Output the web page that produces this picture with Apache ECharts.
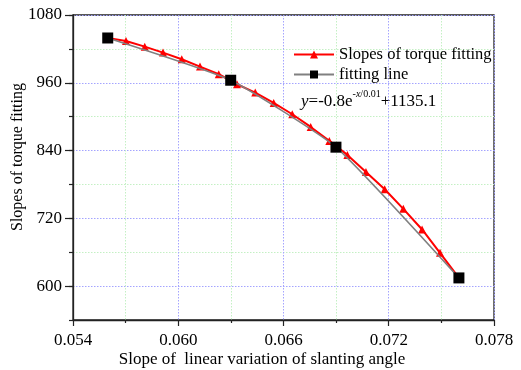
<!DOCTYPE html>
<html>
<head>
<meta charset="utf-8">
<script src="https://cdn.jsdelivr.net/npm/echarts@6/dist/echarts.min.js"></script>
<style>html,body{margin:0;padding:0;background:#fff}#c{width:521px;height:370px}</style>
</head>
<body>
<div id="c"></div>
<script>
var torqueX = [0.05598,0.05702,0.05809,0.05913,0.06020,0.06124,0.06231,0.06335,0.06439,0.06544,
               0.06650,0.06755,0.06861,0.06964,0.07070,0.07177,0.07283,0.07390,0.07492,0.07600];
var torqueY = [1039.3,1034.1,1024.0,1013.4,1001.6,988.7,975.1,957.4,942.7,924.3,
               904.3,881.8,857.1,832.3,802.2,771.6,736.8,700.3,658.9,614.7];
var fitX = [0.05598,0.06299,0.06899,0.07600];
var fitY = [1039.3,964.5,846.0,614.5];
var yTickLabels = [600,720,840,960,1080];
var xTickLabels = [0.054,0.060,0.066,0.072,0.078];

var FONT = '"Liberation Serif","DejaVu Serif",serif';
function pairs(xs, ys){ return xs.map(function(x,i){ return [x, ys[i]]; }); }

var BLUE = '#a4a4ff', GREEN = '#c4f0c4';
var chart = echarts.init(document.getElementById('c'), null, {renderer:'canvas'});
chart.setOption({
  animation:false,
  backgroundColor:'#fff',
  grid:{left:73,right:27,top:15,bottom:50,show:true,borderColor:'#222',borderWidth:1.3,backgroundColor:'transparent'},
  legend:{
    orient:'vertical',left:293,top:46,itemWidth:40,itemHeight:10,itemGap:3,padding:0,
    textStyle:{fontFamily:FONT,fontSize:16.5,color:'#000'},
    data:['Slopes of torque fitting','fitting line']
  },
  xAxis:{
    type:'value',min:0.054,max:0.078,interval:0.006,
    axisLine:{lineStyle:{color:'#222',width:1.3}},
    axisTick:{length:6,lineStyle:{color:'#222',width:1.2}},
    minorTick:{show:true,splitNumber:2,length:3,lineStyle:{color:'#222',width:1.2}},
    axisLabel:{margin:12,fontFamily:FONT,fontSize:17,color:'#000',
      customValues:xTickLabels,
      formatter:function(v){return v.toFixed(3);}},
    splitLine:{show:true,lineStyle:{color:BLUE,type:[1.5,1.5],width:1}},
    minorSplitLine:{show:true,lineStyle:{color:GREEN,type:[1.5,1.5],width:1}}
  },
  yAxis:[{
    type:'value',min:540,max:1080,interval:60,
    axisLine:{show:true,lineStyle:{color:'#222',width:1.3}},
    axisTick:{show:true,length:4,lineStyle:{color:'#222',width:1.2}},
    axisLabel:{show:false},
    splitLine:{show:true,showMinLine:true,lineStyle:{color:[GREEN,BLUE],type:[1.5,1.5],width:1}}
  },{
    type:'value',min:540,max:1080,position:'left',
    axisLine:{show:false},
    axisTick:{show:true,length:8,customValues:yTickLabels,lineStyle:{color:'#222',width:1.2}},
    axisLabel:{margin:11,fontFamily:FONT,fontSize:17,color:'#000',customValues:yTickLabels,
      formatter:function(v){return String(v);}},
    splitLine:{show:false}
  }],
  graphic:[
    {type:'text',x:262,y:360,style:{text:'Slope of  linear variation of slanting angle',fontFamily:FONT,fontSize:17,fill:'#000',align:'center',verticalAlign:'middle'}},
    {type:'text',rotation:Math.PI/2,x:18,y:157,style:{text:'Slopes of torque fitting',fontFamily:FONT,fontSize:16,fill:'#000',align:'center',verticalAlign:'middle'}},
    {type:'text',x:301,y:100,style:{
      rich:{
        i:{fontFamily:FONT,fontSize:17,fontStyle:'italic',fill:'#000',lineHeight:21,verticalAlign:'bottom'},
        n:{fontFamily:FONT,fontSize:17,fill:'#000',lineHeight:21,verticalAlign:'bottom'},
        s:{fontFamily:FONT,fontSize:10,fill:'#000',lineHeight:12,verticalAlign:'top'},
        si:{fontFamily:FONT,fontSize:10,fontStyle:'italic',fill:'#000',lineHeight:12,verticalAlign:'top'}
      },
      text:'{i|y}{n|=-0.8e}{s|-}{si|x}{s|/0.01}{n|+1135.1}',
      verticalAlign:'middle'
    }}
  ],
  series:[{
    name:'Slopes of torque fitting',type:'line',
    data:pairs(torqueX,torqueY),
    symbol:'triangle',symbolSize:8,
    lineStyle:{color:'#ff0000',width:2},
    itemStyle:{color:'#ff0000'},
    z:2
  },{
    name:'fitting line',type:'line',smooth:0.15,
    data:pairs(fitX,fitY),
    symbol:'rect',symbolSize:11,
    lineStyle:{color:'#808080',width:1.5},
    itemStyle:{color:'#000'},
    z:3
  }]
});
</script>
</body>
</html>
